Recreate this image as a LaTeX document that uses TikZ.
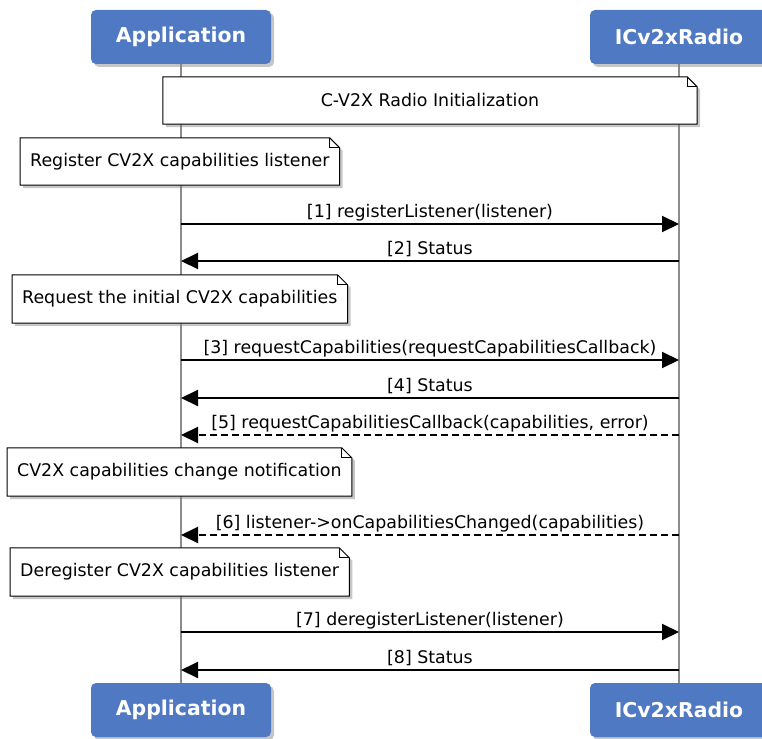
\documentclass[tikz,border=0pt]{standalone}
\usepackage{fontspec}
\setmainfont{DejaVu Sans}
\usetikzlibrary{arrows.meta,positioning,shadows,backgrounds}
\definecolor{seqInk}{HTML}{000000}
\definecolor{seqLife}{HTML}{8C8C8C}
\definecolor{seqHead}{HTML}{5079C4}
\definecolor{seqNote}{HTML}{FFFFFF}
\tikzset{
  seq/head/.style={fill=seqHead, rounded corners=5pt, minimum width=180pt,
    minimum height=54pt, inner sep=0pt, text=white,
    font=\fontsize{20.4}{24}\selectfont\bfseries,
    drop shadow={shadow xshift=3pt, shadow yshift=-3pt, opacity=0.45}},
  seq/life/.style={draw=seqLife, line width=1.6pt},
  seq/notetext/.style={font=\fontsize{17.4}{21}\selectfont, inner xsep=10pt,
    inner ysep=0pt, minimum height=48pt, anchor=west},
  seq/noteshape/.style={fill=seqNote, draw=seqInk, line width=1pt,
    drop shadow={shadow xshift=3pt, shadow yshift=-3pt, opacity=0.45}},
  seq/fold/.style={draw=seqInk, line width=1pt},
  seq/call/.style={-{Triangle[length=17pt,width=16pt]}, draw=seqInk,
    line width=2pt},
  seq/reply/.style={seq/call, dash pattern=on 7pt off 4pt},
  seq/label/.style={font=\fontsize{17.4}{21}\selectfont, inner sep=0pt,
    anchor=base, yshift=7pt},
}

\begin{document}
\begin{tikzpicture}[x=1pt, y=-1pt,
    head/.style={seq/head},
    life/.style={seq/life},
    note/.style={seq/notetext},
    call/.style={seq/call},
    reply/.style={seq/reply},
    lbl/.style={seq/label},
]
\useasboundingbox (0,0) rectangle (762,738);
\clip (0,0) rectangle (762,738);

% participants, top and bottom
\node[head] (appTop) at (181,37) {Application};
\node[head, minimum width=178pt] (radTop) at (679,37) {ICv2xRadio};
\node[head] (appBot) at (181,710) {Application};
\node[head, minimum width=178pt] (radBot) at (679,710) {ICv2xRadio};

% notes
\node[note, anchor=center, minimum width=534pt, minimum height=47pt] (nInit) at (430,100.5) {C-V2X Radio Initialization};
\node[note, minimum height=47pt] (nReg) at (20,161.5) {Register CV2X capabilities listener};
\node[note] (nReq) at (12,299) {Request the initial CV2X capabilities};
\node[note] (nChg) at (7,472) {CV2X capabilities change notification};
\node[note] (nDereg) at (10,572) {Deregister CV2X capabilities listener};

% message rows
\foreach \i/\y in {1/224,2/261,3/360,4/398,5/435,6/535,7/632,8/670}
    \coordinate (row\i) at (0,\y);

\draw[call] (appTop |- row1) -- node[lbl] (m1) {[1] registerListener(listener)} (radTop |- row1);
\draw[call] (radTop |- row2) -- node[lbl] (m2) {[2] Status} (appTop |- row2);
\draw[call] (appTop |- row3) -- node[lbl] (m3) {[3] requestCapabilities(requestCapabilitiesCallback)} (radTop |- row3);
\draw[call] (radTop |- row4) -- node[lbl] (m4) {[4] Status} (appTop |- row4);
\draw[reply] (radTop |- row5) -- node[lbl] (m5) {[5] requestCapabilitiesCallback(capabilities, error)} (appTop |- row5);
\draw[reply] (radTop |- row6) -- node[lbl] (m6) {[6] listener->onCapabilitiesChanged(capabilities)} (appTop |- row6);
\draw[call] (appTop |- row7) -- node[lbl] (m7) {[7] deregisterListener(listener)} (radTop |- row7);
\draw[call] (radTop |- row8) -- node[lbl] (m8) {[8] Status} (appTop |- row8);

\begin{scope}[on background layer]
    \draw[life] (appTop.south) -- (appBot.north);
    \draw[life] (radTop.south) -- (radBot.north);
    \foreach \n in {nInit,nReg,nReq,nChg,nDereg} {
        \path[seq/noteshape] (\n.north west) -- ([xshift=-10pt]\n.north east)
            -- ([yshift=-10pt]\n.north east) -- (\n.south east)
            -- (\n.south west) -- cycle;
        \draw[seq/fold] ([xshift=-10pt]\n.north east) |- ([yshift=-10pt]\n.north east);
    }
\end{scope}
\end{tikzpicture}
\end{document}
